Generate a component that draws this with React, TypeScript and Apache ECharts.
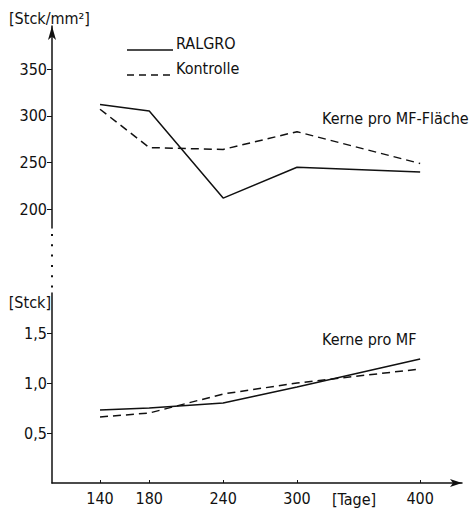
import React, { useEffect, useRef } from 'react';
import * as echarts from 'echarts';

const days = [140, 180, 240, 300, 400];
const ralgroArea = [312, 305, 212, 245, 240];
const kontrolleArea = [307, 266, 264, 283, 249];
const ralgroFiber = [0.73, 0.75, 0.8, 0.96, 1.24];
const kontrolleFiber = [0.66, 0.7, 0.89, 1.0, 1.14];
const areaTicks = [200, 250, 300, 350];
const fiberTicks = [0.5, 1.0, 1.5];
const dayTicks = [140, 180, 240, 300, 400];
const seriesNames = ['RALGRO', 'Kontrolle'];

const FONT = "'DejaVu Sans Condensed', 'DejaVu Sans', sans-serif";
const INK = '#111';

export default function App() {
  const ref = useRef<HTMLDivElement>(null);
  useEffect(() => {
    if (!ref.current) return;
    const chart = echarts.init(ref.current, undefined, { renderer: 'svg' });
    const pair = (vals: number[]) => days.map((d, i) => [d, vals[i]]);
    const solid = { color: INK, width: 1.5, type: 'solid' as const };
    const dashed = { color: INK, width: 1.5, type: [8, 5] as any };
    const axisText = { color: INK, fontFamily: FONT, fontSize: 16 };
    chart.setOption({
      animation: false,
      backgroundColor: '#fff',
      textStyle: { fontFamily: FONT },
      grid: [
        { left: 52, top: 26, width: 410, height: 202 },
        { left: 52, top: 293, width: 410, height: 190 },
      ],
      xAxis: [
        {
          type: 'value', gridIndex: 0, min: 101, max: 434,
          axisLine: { show: false }, axisTick: { show: false },
          axisLabel: { show: false }, splitLine: { show: false },
        },
        {
          type: 'value', gridIndex: 1, min: 101, max: 434,
          axisLine: { show: true, onZero: false, symbol: ['none', 'arrow'], symbolSize: [6, 12], lineStyle: { color: INK, width: 1.5 } },
          axisTick: { show: true, inside: true, length: 3, customValues: dayTicks, lineStyle: { color: INK } },
          axisLabel: { ...axisText, margin: 7, customValues: dayTicks },
          splitLine: { show: false },
        },
      ],
      yAxis: [
        {
          type: 'value', gridIndex: 0, min: 180, max: 396,
          axisLine: { show: true, symbol: ['none', 'arrow'], symbolSize: [6, 14], lineStyle: { color: INK, width: 1.5 } },
          axisTick: { show: true, length: 5, customValues: areaTicks, lineStyle: { color: INK } },
          axisLabel: { ...axisText, margin: 5, customValues: areaTicks },
          splitLine: { show: false },
        },
        {
          type: 'value', gridIndex: 1, min: 0, max: 1.9,
          axisLine: { show: true, lineStyle: { color: INK, width: 1.5 } },
          axisTick: { show: true, length: 5, customValues: fiberTicks, lineStyle: { color: INK } },
          axisLabel: {
            ...axisText, margin: 5, customValues: fiberTicks,
            formatter: (v: number) => v.toFixed(1).replace('.', ','),
          },
          splitLine: { show: false },
        },
      ],
      series: [
        { name: seriesNames[0], type: 'line', xAxisIndex: 0, yAxisIndex: 0, data: pair(ralgroArea), symbol: 'none', lineStyle: solid },
        { name: seriesNames[1], type: 'line', xAxisIndex: 0, yAxisIndex: 0, data: pair(kontrolleArea), symbol: 'none', lineStyle: dashed },
        { name: seriesNames[0], type: 'line', xAxisIndex: 1, yAxisIndex: 1, data: pair(ralgroFiber), symbol: 'none', lineStyle: solid },
        { name: seriesNames[1], type: 'line', xAxisIndex: 1, yAxisIndex: 1, data: pair(kontrolleFiber), symbol: 'none', lineStyle: dashed },
      ],
      graphic: [
        { type: 'line', shape: { x1: 127, y1: 50, x2: 173, y2: 50 }, style: { stroke: INK, lineWidth: 1.5 } },
        { type: 'line', shape: { x1: 127, y1: 75, x2: 173, y2: 75 }, style: { stroke: INK, lineWidth: 1.5, lineDash: [7, 5] } },
        { type: 'text', x: 176, y: 43, style: { text: seriesNames[0], fill: INK, font: `16px ${FONT}`, verticalAlign: 'middle' } },
        { type: 'text', x: 176, y: 68, style: { text: seriesNames[1], fill: INK, font: `16px ${FONT}`, verticalAlign: 'middle' } },
        { type: 'text', x: 322, y: 118, style: { text: 'Kerne pro MF-Fläche', fill: INK, font: `16px ${FONT}`, verticalAlign: 'middle' } },
        { type: 'text', x: 322, y: 339, style: { text: 'Kerne pro MF', fill: INK, font: `16px ${FONT}`, verticalAlign: 'middle' } },
        { type: 'text', x: 9, y: 18, style: { text: '[Stck/mm²]', fill: INK, font: `16px ${FONT}`, verticalAlign: 'middle' } },
        { type: 'text', x: 51, y: 302, style: { text: '[Stck]', fill: INK, font: `16px ${FONT}`, verticalAlign: 'middle', align: 'right' } },
        { type: 'text', x: 332, y: 499, style: { text: '[Tage]', fill: INK, font: `16px ${FONT}`, verticalAlign: 'middle' } },
        { type: 'line', shape: { x1: 52, y1: 234, x2: 52, y2: 290 }, style: { stroke: INK, lineWidth: 2, lineDash: [2, 8.3] } },
      ],
    });
    return () => chart.dispose();
  }, []);
  return <div ref={ref} style={{ position: 'absolute', left: 0, top: 0, width: 469, height: 510 }} />;
}
